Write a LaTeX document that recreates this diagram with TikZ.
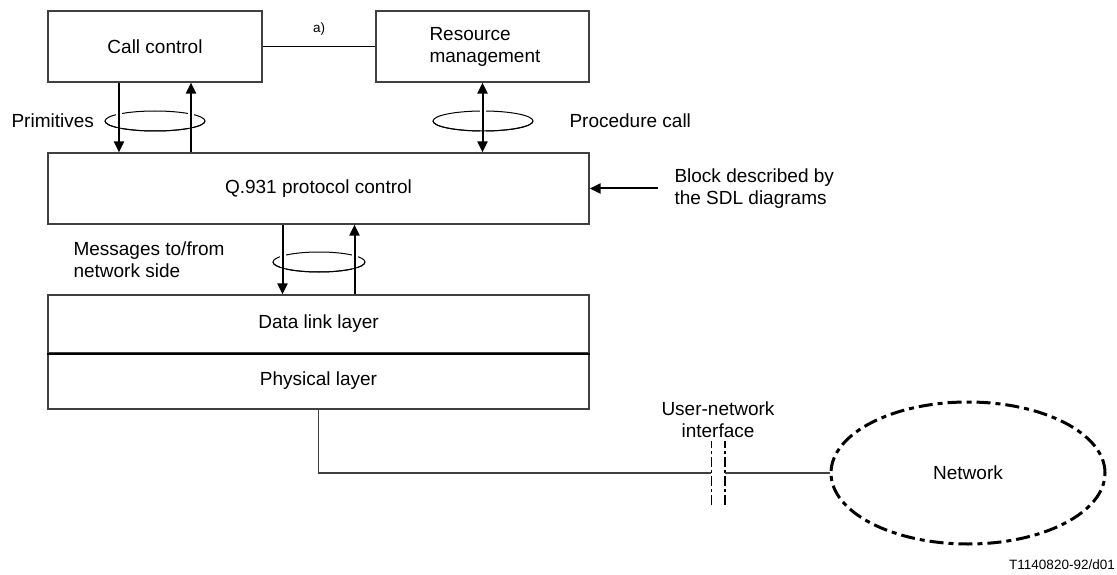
\documentclass[tikz,border=0pt]{standalone}
\usepackage{fontspec}
\setmainfont{Liberation Sans}
\usetikzlibrary{arrows.meta,shapes.geometric}

\tikzset{
	blk/.style={draw=black!75, line width=1.2pt, minimum height=71pt, font=\fontsize{19}{22}\selectfont},
	sig/.style={line width=2pt, -{Triangle[length=11pt,width=10pt]}},
	ring/.style={line width=1pt},
	wire/.style={draw=black!75, line width=1.3pt},
	lbl/.style={font=\fontsize{19}{22}\selectfont, align=left},
}

\begin{document}
\begin{tikzpicture}[x=1pt,y=-1pt]
	\useasboundingbox (0,0) rectangle (1117,575);

	\node[blk, minimum width=214pt] (cc) at (155,46.5) {Call control};
	\node[blk, minimum width=213pt, text width=190pt, align=left, inner xsep=0pt] (rm) at (482.5,46.5) {\hspace*{42pt}Resource\\\hspace*{42pt}management};
	\node[blk, minimum width=541pt] (pc) at (318.5,188.5) {Q.931 protocol control};
	\node[blk, minimum width=541pt, minimum height=58pt] (dl) at (318.5,324) {Data link layer};
	\node[blk, minimum width=541pt, minimum height=56pt] (ph) at (318.5,381) {Physical layer};
	\draw[line width=2pt] (dl.south west) -- (dl.south east);

	\node[lbl, anchor=west] (prim) at (8,121) {Primitives};
	\node[lbl, anchor=west] (proc) at (566,121) {Procedure call};
	\node[lbl, anchor=west] (sdl) at (671,189) {Block described by\\the SDL diagrams};
	\node[lbl, anchor=west] (msg) at (70,260) {Messages to/from\\network side};
	\node[lbl, align=center] (uni) at (718,420) {User-network\\interface};
	\node[ellipse, draw, line width=3pt, dash pattern=on 14pt off 5pt on 5pt off 5pt,
		minimum width=274pt, minimum height=142pt, font=\fontsize{19}{22}\selectfont] (net) at (968,473) {Network};
	\node[font=\fontsize{13.5}{15}\selectfont, anchor=east, inner sep=0pt] (code) at (1115,565) {T1140820-92/d01};

	% a) link
	\draw[line width=1.5pt] (cc) -- node[above=7pt, font=\fontsize{13.5}{15}\selectfont] {a)} (rm);

	% rings
	\draw[ring] (155,121) ellipse [x radius=50pt, y radius=10pt];
	\draw[ring] (483,121) ellipse [x radius=50pt, y radius=10pt];
	\draw[ring] (319,262) ellipse [x radius=46pt, y radius=10pt];

	% primitives
	\draw[sig, preaction={draw=white, line width=6pt, -}] ([xshift=-36pt]cc.south) -- ([xshift=-36pt]cc.south |- pc.north);
	\draw[sig, preaction={draw=white, line width=6pt, -}] ([xshift=36pt]cc.south |- pc.north) -- ([xshift=36pt]cc.south);
	% procedure call
	\draw[sig, {Triangle[length=11pt,width=10pt]}-{Triangle[length=11pt,width=10pt]}, preaction={draw=white, line width=6pt, -}] (rm.south) -- (rm.south |- pc.north);
	% messages
	\draw[sig, preaction={draw=white, line width=6pt, -}] ([xshift=-36pt]pc.south) -- ([xshift=-36pt]pc.south |- dl.north);
	\draw[sig, preaction={draw=white, line width=6pt, -}] ([xshift=36pt]pc.south |- dl.north) -- ([xshift=36pt]pc.south);

	% front halves of the rings
	\draw[ring] (105,121) arc[start angle=180, end angle=360, x radius=50pt, y radius=10pt];
	\draw[ring] (433,121) arc[start angle=180, end angle=360, x radius=50pt, y radius=10pt];
	\draw[ring] (273,262) arc[start angle=180, end angle=360, x radius=46pt, y radius=10pt];

	% SDL block
	\coordinate (sdlarr) at (658,188.5);
	\draw[sig] (sdlarr) -- (pc.east);

	% user-network interface
	\coordinate (ifa) at (711,473);
	\coordinate (ifb) at (725,473);
	\draw[wire] (ph.south) |- (ifa);
	\draw[line width=1pt, dash pattern=on 10pt off 3pt on 3pt off 3pt] ([yshift=-32pt]ifa) -- ([yshift=32pt]ifa);
	\draw[line width=2.5pt, dash pattern=on 10pt off 3pt on 3pt off 3pt] ([yshift=-32pt]ifb) -- ([yshift=32pt]ifb);
	\draw[wire] (ifb) -- (net.west);
\end{tikzpicture}
\end{document}
